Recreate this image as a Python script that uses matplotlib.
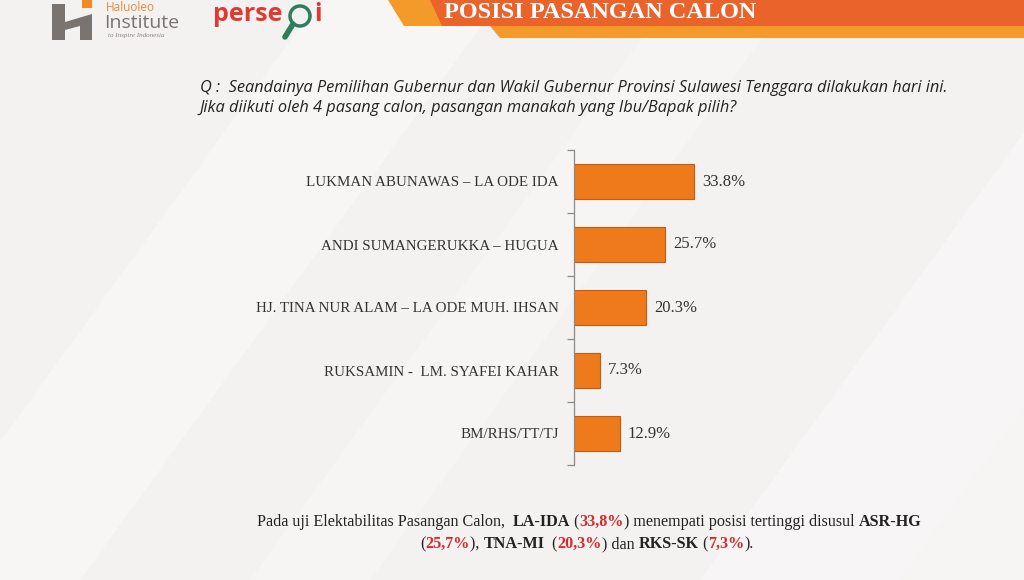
import matplotlib
matplotlib.use("Agg")
import matplotlib.pyplot as plt
import numpy as np
from matplotlib import font_manager
from matplotlib.patches import Polygon, Rectangle

# ---------------- data ----------------
categories = [
    "LUKMAN ABUNAWAS \u2013 LA ODE IDA",
    "ANDI SUMANGERUKKA \u2013 HUGUA",
    "HJ. TINA NUR ALAM \u2013 LA ODE MUH. IHSAN",
    "RUKSAMIN -  LM. SYAFEI KAHAR",
    "BM/RHS/TT/TJ",
]
values = [33.8, 25.7, 20.3, 7.3, 12.9]
value_labels = ["33.8%", "25.7%", "20.3%", "7.3%", "12.9%"]

title = "POSISI PASANGAN CALON"
question_lines = [
    "Q :  Seandainya Pemilihan Gubernur dan Wakil Gubernur Provinsi Sulawesi Tenggara dilakukan hari ini.",
    "Jika diikuti oleh 4 pasang calon, pasangan manakah yang Ibu/Bapak pilih?",
]
# (text, style) pieces for the footnote; style: n=normal, b=bold, r=bold red
footnote_line1 = [
    ("Pada uji Elektabilitas Pasangan Calon,  ", "n"), ("LA-IDA", "b"), (" (", "n"),
    ("33,8%", "r"), (") menempati posisi tertinggi disusul ", "n"), ("ASR-HG", "b"),
]
footnote_line2 = [
    ("(", "n"), ("25,7%", "r"), ("), ", "n"), ("TNA-MI", "b"), ("  (", "n"),
    ("20,3%", "r"), (") dan ", "n"), ("RKS-SK", "b"), (" (", "n"), ("7,3%", "r"), (").", "n"),
]

# ---------------- fonts ----------------
avail = {f.name for f in font_manager.fontManager.ttflist}
serif = "Liberation Serif" if "Liberation Serif" in avail else "DejaVu Serif"
narrow = "Liberation Sans Narrow" if "Liberation Sans Narrow" in avail else "Open Sans"
q_size = 12.5 if narrow == "Liberation Sans Narrow" else 11.8

W, H = 1024, 580
fig = plt.figure(figsize=(W / 100, H / 100), dpi=100)
fig.patch.set_facecolor("#f4f2f1")

# background overlay axes in pixel coords
bg = fig.add_axes([0, 0, 1, 1])
bg.set_xlim(0, W)
bg.set_ylim(H, 0)
bg.axis("off")
bg.set_zorder(-1)

# subtle diagonal light streaks
for x0, wdt, a in [(-100, 180, 0.35), (250, 120, 0.25), (700, 200, 0.3), (900, 150, 0.25)]:
    bg.add_patch(Polygon([(x0, H), (x0 + wdt, H), (x0 + wdt + 420, 0), (x0 + 420, 0)],
                         closed=True, facecolor="white", alpha=a, lw=0))

# header bands
bg.add_patch(Polygon([(388, 0), (W, 0), (W, 38), (500, 38), (490, 26), (404, 26)],
                     closed=True, facecolor="#f39a2b", lw=0))
bg.add_patch(Polygon([(430, 0), (W, 0), (W, 26), (442, 26)],
                     closed=True, facecolor="#e9632b", lw=0))
bg.text(444, 13, title, color="white", fontsize=17.5, fontweight="bold",
        family=serif, ha="left", va="center")

# logos (approximations)
bg.add_patch(Rectangle((52, 4), 13, 36, facecolor="#7a7471", lw=0))
bg.add_patch(Polygon([(65, 22), (92, 14), (92, 40), (80, 40), (80, 26), (65, 30)],
                     closed=True, facecolor="#7a7471", lw=0))
bg.add_patch(Rectangle((82, 0), 10, 8, facecolor="#f08a24", lw=0))
bg.text(106, 1, "Haluoleo", color="#e88a3a", fontsize=8.5, family="Open Sans",
        ha="left", va="top")
bg.text(104, 23, "Institute", color="#7a7471", fontsize=14, family="Open Sans",
        ha="left", va="center")
bg.text(108, 36, "to Inspire Indonesia", color="#8a8380", fontsize=5, style="italic",
        family=serif, ha="left", va="center")
bg.text(213, 2, "perse", color="#e03a32", fontsize=18, fontweight="bold",
        family="Open Sans", ha="left", va="top")
bg.add_patch(plt.Circle((300, 16), 10, facecolor="none", edgecolor="#2e7d5b", lw=2.5))
bg.plot([293, 285], [24, 37], color="#2e7d5b", lw=4, solid_capstyle="round")
bg.text(314, 2, "i", color="#e03a32", fontsize=18, fontweight="bold",
        family="Open Sans", ha="left", va="top")

# question
bg.text(200, 88, question_lines[0], fontsize=q_size, style="italic", family=narrow,
        color="#222222", ha="left", va="center")
bg.text(200, 108, question_lines[1], fontsize=q_size, style="italic", family=narrow,
        color="#222222", ha="left", va="center")

# ---------------- chart ----------------
ax_left, ax_right = 574, 574 + 40 * 3.55
ax_top, ax_bot = 150, 465
ax = fig.add_axes([ax_left / W, 1 - ax_bot / H, (ax_right - ax_left) / W, (ax_bot - ax_top) / H])
ax.set_facecolor("none")
y = np.arange(len(categories))
ax.barh(y, values, height=0.55, color="#ef7a1b", edgecolor="#c75a0c", linewidth=0.8)
ax.set_xlim(0, 40)
ax.set_ylim(len(categories) - 0.5, -0.5)
for s in ["top", "right", "bottom"]:
    ax.spines[s].set_visible(False)
ax.spines["left"].set_color("#8a8a8a")
ax.spines["left"].set_linewidth(0.9)
ax.set_xticks([])
ax.set_yticks(y)
ax.set_yticklabels(categories, family=serif, fontsize=10.8, color="#333333")
ax.tick_params(axis="y", which="major", length=0, pad=11)
ax.set_yticks(np.arange(-0.5, len(categories), 1), minor=True)
ax.tick_params(axis="y", which="minor", length=5, width=0.9, color="#8a8a8a", direction="out")
for v, lab, yy in zip(values, value_labels, y):
    ax.text(v + 2.3, yy, lab, family=serif, fontsize=12, color="#333333",
            ha="left", va="center")

# ---------------- footnote with mixed styles ----------------
fig.canvas.draw()
renderer = fig.canvas.get_renderer()

def styled(style):
    if style == "n":
        return dict(fontweight="normal", color="#222222")
    if style == "b":
        return dict(fontweight="bold", color="#222222")
    return dict(fontweight="bold", color="#d42a2f")

def draw_line(pieces, cx, cy, size=11.6):
    texts = []
    widths = []
    for txt, st in pieces:
        t = bg.text(0, cy, txt, family=serif, fontsize=size, ha="left", va="center", **styled(st))
        texts.append(t)
        bb = t.get_window_extent(renderer=renderer)
        widths.append(bb.width)
    total = sum(widths)
    x = cx - total / 2
    for t, w in zip(texts, widths):
        t.set_x(x)
        x += w

draw_line(footnote_line1, 589, 522)
draw_line(footnote_line2, 587, 544)

fig.savefig("out.png", dpi=100, facecolor=fig.get_facecolor())
